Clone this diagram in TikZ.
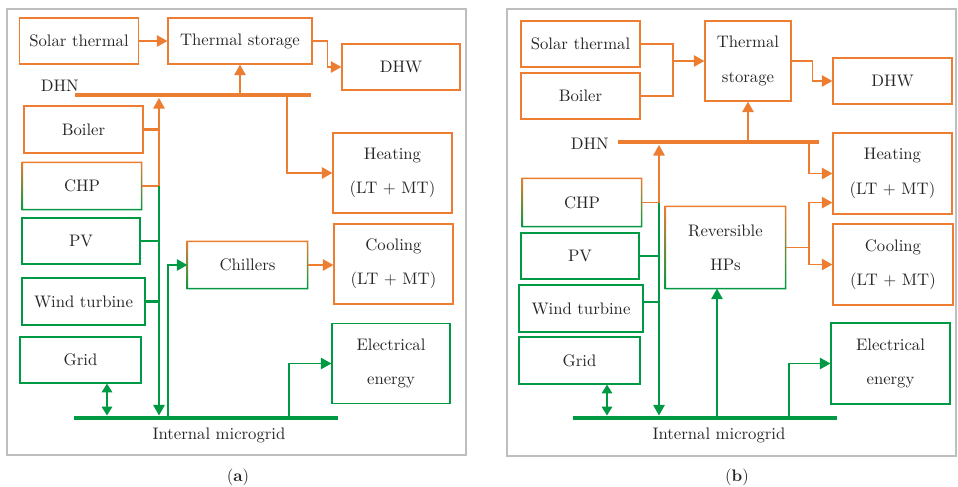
\documentclass[tikz,border=0pt]{standalone}
\usetikzlibrary{arrows.meta,calc}
\definecolor{heatorange}{RGB}{237,125,49}
\definecolor{elecgreen}{RGB}{0,153,68}
\definecolor{framegray}{RGB}{190,190,190}
% border that fades from orange (top) to green (bottom)
\newcommand{\mixborder}[1]{%
  \shade[top color=heatorange, bottom color=elecgreen, middle color=heatorange!50!elecgreen, even odd rule]
    ([shift={(-0.45pt,0.45pt)}]#1.north west) rectangle ([shift={(0.45pt,-0.45pt)}]#1.south east)
    ([shift={(0.45pt,-0.45pt)}]#1.north west) rectangle ([shift={(-0.45pt,0.45pt)}]#1.south east);}
\begin{document}
\begin{tikzpicture}[x=0.02cm, y=-0.02cm, font=\fontsize{9.5}{19.5}\selectfont,
  hbox/.style={draw=heatorange, line width=0.7pt, inner sep=0pt, align=center, text=black!85,
    minimum width=2.38cm, minimum height=0.92cm},
  ebox/.style={hbox, draw=elecgreen},
  mbox/.style={hbox, draw=none},
  tall/.style={minimum height=1.6cm},
  hline/.style={draw=heatorange, line width=0.85pt},
  eline/.style={draw=elecgreen, line width=0.85pt},
  hstub/.style={draw=heatorange, line width=1.6pt},
  estub/.style={draw=elecgreen, line width=1.6pt},
  hbar/.style={draw=heatorange, line width=2.8pt},
  ebar/.style={draw=elecgreen, line width=2.8pt},
  tip/.style={-{Triangle[length=6pt,width=6.5pt]}},
  twotip/.style={{Triangle[length=5pt,width=6pt]}-{Triangle[length=5pt,width=6pt]}},
  label/.style={inner sep=0pt, text=black!85}]
\useasboundingbox (0,0) rectangle (958,487);
% frames
\draw[framegray, line width=0.6pt] (7,9) rectangle (466,455);
\draw[framegray, line width=0.6pt] (507,9) rectangle (956,456);

% (a) with chillers
\node[hbox] (sta) at (79,41) {Solar thermal};
\node[hbox, minimum width=2.88cm] (tsa) at (240,41) {Thermal storage};
\node[hbox, minimum width=2.36cm] (dhwa) at (401,67) {DHW};
\node[hbox, minimum height=0.94cm] (boila) at (83.5,129.5) {Boiler};
\node[mbox, minimum width=2.36cm] (chpa) at (82,186) {CHP};
\node[ebox, minimum width=2.36cm] (pva) at (81,241) {PV};
\node[ebox, minimum width=2.46cm, minimum height=0.94cm] (winda) at (83.5,301.5) {Wind turbine};
\node[ebox, minimum width=2.42cm] (grida) at (80.5,360) {Grid};
\node[hbox, tall] (heata) at (392.5,173) {Heating\\(LT + MT)};
\node[hbox, tall] (coola) at (393.5,264) {Cooling\\(LT + MT)};
\node[ebox, tall, minimum width=2.36cm] (elea) at (391,363.5) {Electrical\\energy};
\node[mbox] (chila) at (247.5,265) {Chillers};
\mixborder{chpa}
\mixborder{chila}
\node[label, anchor=east] (dhnla) at (79,86) {DHN};
\node[label] (mgla) at (219,435) {Internal microgrid};
\node[label] (capa) at (238,477) {(\textbf{a})};

\coordinate (dhnaL) at (75,95);
\coordinate (dhnaR) at (311,95);
\coordinate (mgaL) at (74,418);
\coordinate (mgaR) at (338,418);
\coordinate (riseA) at (159,98);
\coordinate (dropA) at (159,415.5);
\coordinate (htapA) at (287,95);
\coordinate (gtapA) at (107,415.5);
\coordinate (ctapA) at (168,418);
\coordinate (etapA) at (289,418);
\draw[hbar] (dhnaL) -- (dhnaR);
\draw[ebar] (mgaL) -- (mgaR);

\draw[hline, tip] (sta.east) -- (tsa.west);
\draw[hline, tip] (tsa.east) -- ++(15,0) |- (dhwa.west);
\draw[hline, tip] (tsa.south |- dhnaL) -- (tsa.south);
\draw[hline, tip] (htapA) |- (heata.west);
\draw[hstub] (boila.east) -- (boila.east -| riseA);
\draw[hline, tip] (chpa.east) -| (riseA);
\draw[eline, tip] (chpa.east -| riseA) -- (dropA);
\draw[estub] (pva.east) -- (pva.east -| riseA);
\draw[estub] (winda.east) -- (winda.east -| riseA);
\draw[eline, twotip] (gtapA |- grida.south) -- (gtapA);
\draw[eline, tip] (ctapA) |- (chila.west);
\draw[hline, tip] (chila.east) -- (chila.east -| coola.west);
\draw[eline, tip] (etapA) |- (elea.west);

% (b) with reversible HPs
\node[hbox] (stb) at (580.5,44) {Solar thermal};
\node[hbox] (boilb) at (580.5,96) {Boiler};
\node[hbox, tall, minimum width=1.72cm] (tsb) at (748,61) {Thermal\\storage};
\node[hbox] (dhwb) at (892.5,81) {DHW};
\node[hbox, tall, minimum height=1.62cm] (heatb) at (892.5,173.5) {Heating\\(LT + MT)};
\node[hbox, tall, minimum width=2.4cm, minimum height=1.62cm] (coolb) at (893,264.5) {Cooling\\(LT + MT)};
\node[mbox, minimum width=2.36cm, minimum height=0.94cm] (chpb) at (582,202.5) {CHP};
\node[ebox, minimum width=2.36cm] (pvb) at (580,256) {PV};
\node[ebox, minimum width=2.48cm, minimum height=0.94cm] (windb) at (581,308.5) {Wind turbine};
\node[ebox, minimum width=2.42cm, minimum height=0.94cm] (gridb) at (579.5,360.5) {Grid};
\node[mbox, tall, minimum height=1.62cm] (hpb) at (725.5,247.5) {Reversible\\HPs};
\node[ebox, tall, minimum height=1.62cm] (eleb) at (890.5,363.5) {Electrical\\energy};
\mixborder{chpb}
\mixborder{hpb}
\node[label, anchor=east] (dhnlb) at (609,144) {DHN};
\node[label] (mglb) at (719,435) {Internal microgrid};
\node[label] (capb) at (737,477) {(\textbf{b})};

\coordinate (dhnbL) at (618,142);
\coordinate (dhnbR) at (819,142);
\coordinate (mgbL) at (573,418);
\coordinate (mgbR) at (837,418);
\coordinate (jb) at (673,61);
\coordinate (riseB) at (659,145);
\coordinate (dropB) at (659,415.5);
\coordinate (htapB) at (809,142);
\coordinate (gtapB) at (607,415.5);
\coordinate (hptapB) at (717,418);
\coordinate (hpjB) at (809,247.5);
\coordinate (etapB) at (789,418);
\draw[hbar] (dhnbL) -- (dhnbR);
\draw[ebar] (mgbL) -- (mgbR);

\draw[hline] (stb.east) -| (jb);
\draw[hline] (boilb.east) -| (jb);
\draw[hline, tip] (jb) -- (tsb.west);
\draw[hline, tip] (tsb.east) -- ++(21,0) |- (dhwb.west);
\draw[hline, tip] (tsb.south |- dhnbL) -- (tsb.south);
\draw[hline, tip] (htapB) |- (heatb.west);
\draw[hline, tip] (chpb.east) -| (riseB);
\draw[eline, tip] (chpb.east -| riseB) -- (dropB);
\draw[estub] (pvb.east) -- (pvb.east -| riseB);
\draw[estub] ($(windb.east)+(0,-6.5)$) -- ($(windb.east -| riseB)+(0,-6.5)$);
\draw[eline, twotip] (gtapB |- gridb.south) -- (gtapB);
\draw[eline, tip] (hptapB) -- (hptapB |- hpb.south);
\draw[hline] (hpb.east) -- (hpjB);
\draw[hline, tip] (hpjB) |- ($(heatb.south west)+(0,-12)$);
\draw[hline, tip] (hpjB) |- (coolb.west);
\draw[eline, tip] (etapB) |- (eleb.west);
\end{tikzpicture}
\end{document}
